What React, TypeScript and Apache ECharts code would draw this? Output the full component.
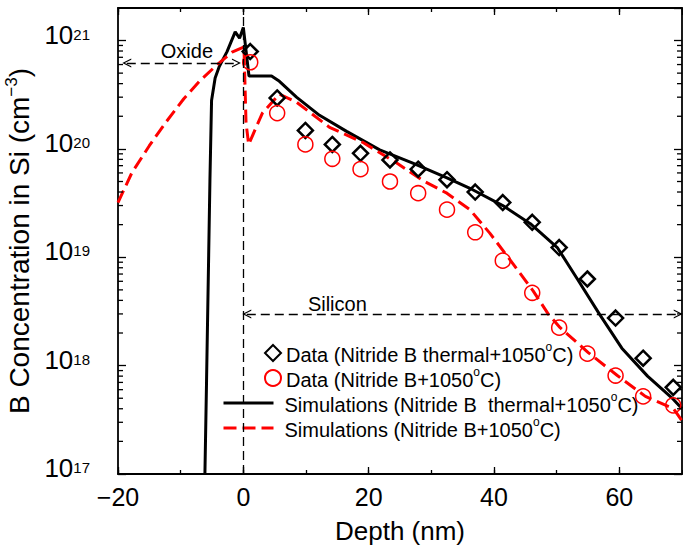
import React, { useEffect, useRef } from 'react';
import * as echarts from 'echarts';

const FONT = '"Liberation Sans", Arial, Helvetica, sans-serif';

// Axis ranges and ticks
const X_MIN = -20;
const X_MAX = 70;
const xMajorTicks = [-20, 0, 20, 40, 60];
const yDecades = [17, 18, 19, 20, 21]; // exponents of 10 (cm^-3)
const Y_MIN_EXP = 17;
const Y_MAX_EXP = 21.3;

// Series names
const NAME_D1 = 'Data (Nitride B thermal+1050°C)';
const NAME_D2 = 'Data (Nitride B+1050°C)';
const NAME_S1 = 'Simulations (Nitride B  thermal+1050°C)';
const NAME_S2 = 'Simulations (Nitride B+1050°C)';

// Measured data (depth in nm, concentration in cm^-3)
const dataDepth = [1.1, 5.4, 9.9, 14.2, 18.7, 23.4, 27.9, 32.5, 37.0, 41.4, 46.1, 50.4, 54.9, 59.4, 63.8, 68.6];
const dataThermal = [7.9e20, 2.95e20, 1.48e20, 1.1e20, 9.1e19, 7.9e19, 6.5e19, 5.2e19, 4.0e19, 3.2e19, 2.1e19, 1.23e19, 6.3e18, 2.75e18, 1.17e18, 6.3e17];
const dataNitride = [6.3e20, 2.14e20, 1.1e20, 8.1e19, 6.5e19, 5.0e19, 3.9e19, 2.75e19, 1.7e19, 9.3e18, 4.7e18, 2.24e18, 1.29e18, 8.1e17, 5.2e17, 4.3e17];

// Simulation (thermal)
const simThermalDepth = [-6.13, -5.87, -5.33, -5.07, -4.5, -3.84, -2.6, -1.3, -0.6, 0, 0.9, 4.5, 5.76, 8.48, 12.16, 16.48, 21.76, 27.04, 32.5, 36.6, 41.4, 45.8, 50.1, 53.3, 56.8, 60.4, 64.5, 68.6, 70];
const simThermalConc = [1e17, 7.2e17, 5.1e19, 2.8e20, 4.5e20, 5.75e20, 7.9e20, 1.2e21, 1.05e21, 1.32e21, 4.7e20, 4.7e20, 4.2e20, 3.0e20, 2.04e20, 1.45e20, 9.8e19, 7.4e19, 5.4e19, 4.2e19, 3.0e19, 2.04e19, 1.23e19, 6.3e18, 3.0e18, 1.45e18, 8.0e17, 4.9e17, 4.0e17];

// Simulation (nitride)
const simNitrideDepth = [-20, -17.8, -15.0, -12.3, -9.5, -7.0, -4.3, -1.8, 0.1, 0.43, 0.85, 3.04, 5.76, 8.48, 13.76, 19.04, 24.48, 28.64, 32.48, 36.16, 39.36, 43.04, 46.24, 48.64, 50.56, 55.04, 59.68, 64.16, 68.64, 70];
const simNitrideConc = [3.2e19, 6.0e19, 1.07e20, 1.78e20, 2.9e20, 4.2e20, 5.9e20, 7.8e20, 8.7e20, 1.74e20, 1.1e20, 2.14e20, 3.2e20, 2.7e20, 1.58e20, 1.15e20, 7.4e19, 5.1e19, 3.9e19, 2.75e19, 1.66e19, 8.7e18, 4.9e18, 3.0e18, 2.24e18, 1.32e18, 8.1e17, 5.2e17, 4.0e17, 3.1e17];

// Annotations
const oxideArrow = { from: -18.6, to: -1.1, level: 6.2e20 };
const siliconArrow = { from: 0.55, to: 69.4, level: 3.0e18 };
const oxideLabel = { depth: -9.0, level: 8.0e20, text: 'Oxide' };
const siliconLabel = { depth: 15.0, level: 3.7e18, text: 'Silicon' };

const lg = (v: number) => Math.log10(v);
const pairs = (xs: number[], ys: number[]) => xs.map((x, i) => [x, lg(ys[i])]);

// log-scale minor ticks (2..9 x 10^n)
const yMinorTicks: number[] = [];
yDecades.forEach((e) => {
  for (let k = 2; k <= 9; k++) {
    const v = e + Math.log10(k);
    if (v <= Y_MAX_EXP) yMinorTicks.push(v);
  }
});

const CHEVRON = 'path://M5,0L10,10L8.6,10L5,2.8L1.4,10L0,10Z';

const fmtName = (name: string) => {
  const parts = name.split('°');
  return parts.length > 1 ? `{n|${parts[0]}}{s|o}{n|${parts[1]}}` : `{n|${name}}`;
};

const legendRich = {
  n: { fontSize: 20, fontFamily: FONT, color: '#000', lineHeight: 24, verticalAlign: 'bottom' },
  s: { fontSize: 12, fontFamily: FONT, color: '#000', lineHeight: 12, verticalAlign: 'top' },
};

const axisLineStyle = { color: '#000', width: 1.8 };
const tickStyle = { color: '#000', width: 1.3 };

export default function App() {
  const ref = useRef<HTMLDivElement>(null);

  useEffect(() => {
    document.body.style.margin = '0';
    if (!ref.current) return;
    const chart = echarts.init(ref.current, undefined, { renderer: 'svg' });

    const xBase = { type: 'value', min: X_MIN, max: X_MAX, splitLine: { show: false } };
    const yBase = { type: 'value', min: Y_MIN_EXP, max: Y_MAX_EXP, interval: 1, splitLine: { show: false } };

    const option: any = {
      animation: false,
      backgroundColor: '#fff',
      textStyle: { fontFamily: FONT },
      grid: { left: 118, right: 1, top: 8, bottom: 74, outerBoundsMode: 'none' },
      xAxis: [
        {
          ...xBase, position: 'bottom', interval: 20,
          axisLine: { onZero: false, lineStyle: axisLineStyle },
          axisTick: { inside: true, length: 7, lineStyle: tickStyle },
          axisLabel: {
            fontSize: 25, color: '#000', fontFamily: FONT, margin: 10, showMaxLabel: false,
            formatter: (v: number) => (xMajorTicks.includes(v) ? (v < 0 ? '\u2212' + Math.abs(v) : String(v)) : ''),
          },
          name: 'Depth (nm)', nameLocation: 'middle', nameGap: 44,
          nameTextStyle: { fontSize: 26, color: '#000', fontFamily: FONT },
        },
        {
          ...xBase, position: 'bottom', interval: 10,
          axisLine: { show: false, onZero: false },
          axisTick: { inside: true, length: 4, lineStyle: tickStyle },
          axisLabel: { show: false },
        },
        {
          ...xBase, position: 'top', interval: 20,
          axisLine: { onZero: false, lineStyle: axisLineStyle },
          axisTick: { inside: true, length: 7, lineStyle: tickStyle },
          axisLabel: { show: false },
        },
        {
          ...xBase, position: 'top', interval: 10,
          axisLine: { show: false, onZero: false },
          axisTick: { inside: true, length: 4, lineStyle: tickStyle },
          axisLabel: { show: false },
        },
      ],
      yAxis: [
        {
          ...yBase, position: 'left',
          axisLine: { onZero: false, lineStyle: axisLineStyle },
          axisTick: { inside: true, length: 8, lineStyle: tickStyle },
          axisLabel: {
            margin: 28, showMaxLabel: false,
            formatter: (v: number) => (yDecades.includes(v) ? `{b|10}{s|${v}}` : ''),
            rich: {
              b: { fontSize: 26, fontFamily: FONT, color: '#000', lineHeight: 28, padding: [5, 0, 7, 0], verticalAlign: 'bottom' },
              s: { fontSize: 15, fontFamily: FONT, color: '#000', lineHeight: 15, verticalAlign: 'top' },
            },
          },
          name: '{t|B Concentration in Si (cm}{u|\u22123}{t|)}',
          nameLocation: 'middle', nameGap: 71, nameRotate: 90,
          nameTextStyle: {
            rich: {
              t: { fontSize: 28, fontFamily: FONT, color: '#000', lineHeight: 30, verticalAlign: 'bottom' },
              u: { fontSize: 17, fontFamily: FONT, color: '#000', lineHeight: 17, verticalAlign: 'top' },
            },
          },
        },
        {
          ...yBase, position: 'right',
          axisLine: { onZero: false, lineStyle: axisLineStyle },
          axisTick: { inside: true, length: 8, lineStyle: tickStyle },
          axisLabel: { show: false },
        },
      ],
      legend: [
        {
          data: [NAME_D1, NAME_D2], orient: 'vertical', left: 264, top: 341,
          itemWidth: 16, itemHeight: 16, itemGap: 1, padding: 0, selectedMode: false,
          formatter: fmtName, textStyle: { fontFamily: FONT, color: '#000', rich: legendRich },
        },
        {
          data: [NAME_S1, NAME_S2], orient: 'vertical', left: 222, top: 391,
          itemWidth: 50, itemHeight: 16, itemGap: 1, padding: 0, selectedMode: false,
          itemStyle: { opacity: 0 },
          lineStyle: { width: 3 },
          formatter: fmtName, textStyle: { fontFamily: FONT, color: '#000', padding: [0, 0, 0, 6], rich: legendRich },
        },
      ],
      series: [
        {
          type: 'custom', name: 'minor', xAxisIndex: 0, yAxisIndex: 0, silent: true, clip: false, z: 5,
          data: yMinorTicks.map((v) => [X_MIN, v]),
          renderItem: (params: any, api: any) => {
            const v = api.value(1);
            const l = api.coord([X_MIN, v]);
            const r = api.coord([X_MAX, v]);
            const st = { stroke: '#000', lineWidth: 1.3 };
            return {
              type: 'group',
              children: [
                { type: 'line', shape: { x1: l[0], y1: l[1], x2: l[0] + 5, y2: l[1] }, style: st },
                { type: 'line', shape: { x1: r[0] - 5, y1: r[1], x2: r[0], y2: r[1] }, style: st },
              ],
            };
          },
        },
        {
          type: 'line', name: NAME_S1, data: pairs(simThermalDepth, simThermalConc),
          symbol: 'none', showSymbol: false, color: '#000', z: 3,
          lineStyle: { color: '#000', width: 3 },
          markLine: {
            silent: true, animation: false, label: { show: false },
            symbol: [CHEVRON, CHEVRON], symbolSize: 9,
            lineStyle: { color: '#000', width: 1.3, type: [9, 5] },
            emphasis: { disabled: true },
            data: [
              [
                { xAxis: 0, yAxis: Y_MIN_EXP, symbol: 'none' },
                { xAxis: 0, yAxis: Y_MAX_EXP, symbol: 'none' },
              ],
              [
                { coord: [oxideArrow.from, lg(oxideArrow.level)] },
                { coord: [oxideArrow.to, lg(oxideArrow.level)] },
              ],
              [
                { coord: [siliconArrow.from, lg(siliconArrow.level)] },
                { coord: [siliconArrow.to, lg(siliconArrow.level)] },
              ],
            ],
          },
          markPoint: {
            silent: true, symbol: 'circle', symbolSize: 0,
            label: { show: true, position: 'inside', color: '#000', fontSize: 20, fontFamily: FONT, formatter: '{b}' },
            data: [
              { name: oxideLabel.text, coord: [oxideLabel.depth, lg(oxideLabel.level)] },
              { name: siliconLabel.text, coord: [siliconLabel.depth, lg(siliconLabel.level)] },
            ],
          },
        },
        {
          type: 'line', name: NAME_S2, data: pairs(simNitrideDepth, simNitrideConc),
          symbol: 'none', showSymbol: false, color: '#f00', z: 3,
          lineStyle: { color: '#f00', width: 3, type: [13, 6] },
        },
        {
          type: 'scatter', name: NAME_D1, data: pairs(dataDepth, dataThermal),
          symbol: 'diamond', symbolSize: 15, z: 4,
          itemStyle: { color: 'rgba(0,0,0,0)', borderColor: '#000', borderWidth: 2.5, opacity: 1 },
        },
        {
          type: 'scatter', name: NAME_D2, data: pairs(dataDepth, dataNitride),
          symbol: 'circle', symbolSize: 15, z: 4,
          itemStyle: { color: 'rgba(0,0,0,0)', borderColor: '#f00', borderWidth: 1.5, opacity: 1 },
        },
      ],
    };

    chart.setOption(option);
    return () => chart.dispose();
  }, []);

  return <div ref={ref} style={{ width: 683, height: 548 }} />;
}
